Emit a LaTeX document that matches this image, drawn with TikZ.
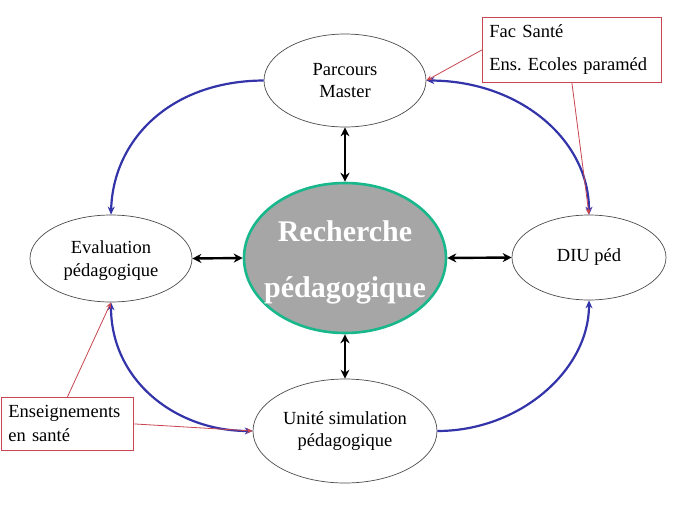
\documentclass[tikz,border=0pt]{standalone}
\usepackage{fontspec}
\setmainfont{Liberation Serif}
\usetikzlibrary{shapes.geometric,arrows.meta}
\definecolor{arcblue}{RGB}{52,52,170}
\definecolor{boxred}{RGB}{200,70,80}
\definecolor{tealc}{RGB}{24,184,140}
\definecolor{fillg}{RGB}{166,166,166}
\frenchspacing
\tikzset{
  ell/.style={ellipse, draw=black!70, line width=0.7pt, inner sep=0pt, align=center,
    font=\fontsize{18.5}{22.5}\selectfont},
  center/.style={ellipse, draw=tealc, fill=fillg, line width=2.6pt, inner sep=0pt, align=center,
    text=white, font=\fontsize{30}{56}\selectfont\bfseries},
  redbox/.style={draw=boxred, line width=0.8pt, inner xsep=7pt, inner ysep=0pt, align=left,
    font=\fontsize{18.5}{24}\selectfont},
  arc/.style={draw=arcblue, line width=2.2pt, -{Stealth[length=8pt,width=7pt]}},
  arcboth/.style={draw=arcblue, line width=2.2pt, {Stealth[length=8pt,width=7pt]}-{Stealth[length=8pt,width=7pt]}},
  link/.style={draw=black, line width=2.4pt, {Stealth[length=9pt,width=9pt]}-{Stealth[length=9pt,width=9pt]}},
  redline/.style={draw=boxred, line width=0.8pt, -{Stealth[length=6pt,width=5pt]}}
}
\begin{document}
\begin{tikzpicture}[x=1pt,y=-1pt]
\useasboundingbox (0,0) rectangle (689,517);
\fill[white] (0,0) rectangle (689,517);

\node[ell, minimum width=162, minimum height=93] (pm) at (345,80.5) {Parcours\\Master};
\node[ell, minimum width=162, minimum height=87] (ev) at (111,258.5) {\rule{0pt}{17pt}Evaluation\\pédagogique};
\node[ell, minimum width=154, minimum height=85] (diu) at (589,257.5) {DIU péd};
\node[ell, minimum width=184, minimum height=104] (us) at (345,431) {Unité simulation\\pédagogique};
\node[center, minimum width=202, minimum height=150] (rp) at (345,258)
  {\rule{0pt}{29pt}\makebox[0pt]{Recherche}\\\makebox[0pt]{pédagogique}};

\node[redbox, anchor=north west, minimum width=179, minimum height=65, text width=165] (fac) at (482,17)
  {Fac Santé\\[9pt]Ens. Ecoles paraméd};
\node[redbox, anchor=north west, minimum width=132, minimum height=53, text width=118] (ens) at (1,397)
  {Enseignements\\en santé};

% black double arrows
\draw[link] (ev.east) -- (rp.west);
\draw[link] (rp.east) -- (diu.west);
\draw[link] (pm.south) -- (rp.north);
\draw[link] (rp.south) -- (us.north);

% blue arcs
\draw[arc] (pm.west) .. controls (170,81) and (113,140) .. (ev.north);
\draw[arcboth] (pm.east) .. controls (520,81) and (589,140) .. (diu.north);
\draw[arcboth] (ev.south) .. controls (111,380) and (175,431) .. (us.west);
\draw[arc] (us.east) .. controls (520,431) and (589,370) .. (diu.south);

% red pointers
\draw[redline] (fac.west) -- (pm.east);
\draw[redline] (fac.south) -- (diu.north);
\draw[redline] (ens.north) -- (ev.south);
\draw[redline] (ens.east) -- (us.west);
\end{tikzpicture}
\end{document}
